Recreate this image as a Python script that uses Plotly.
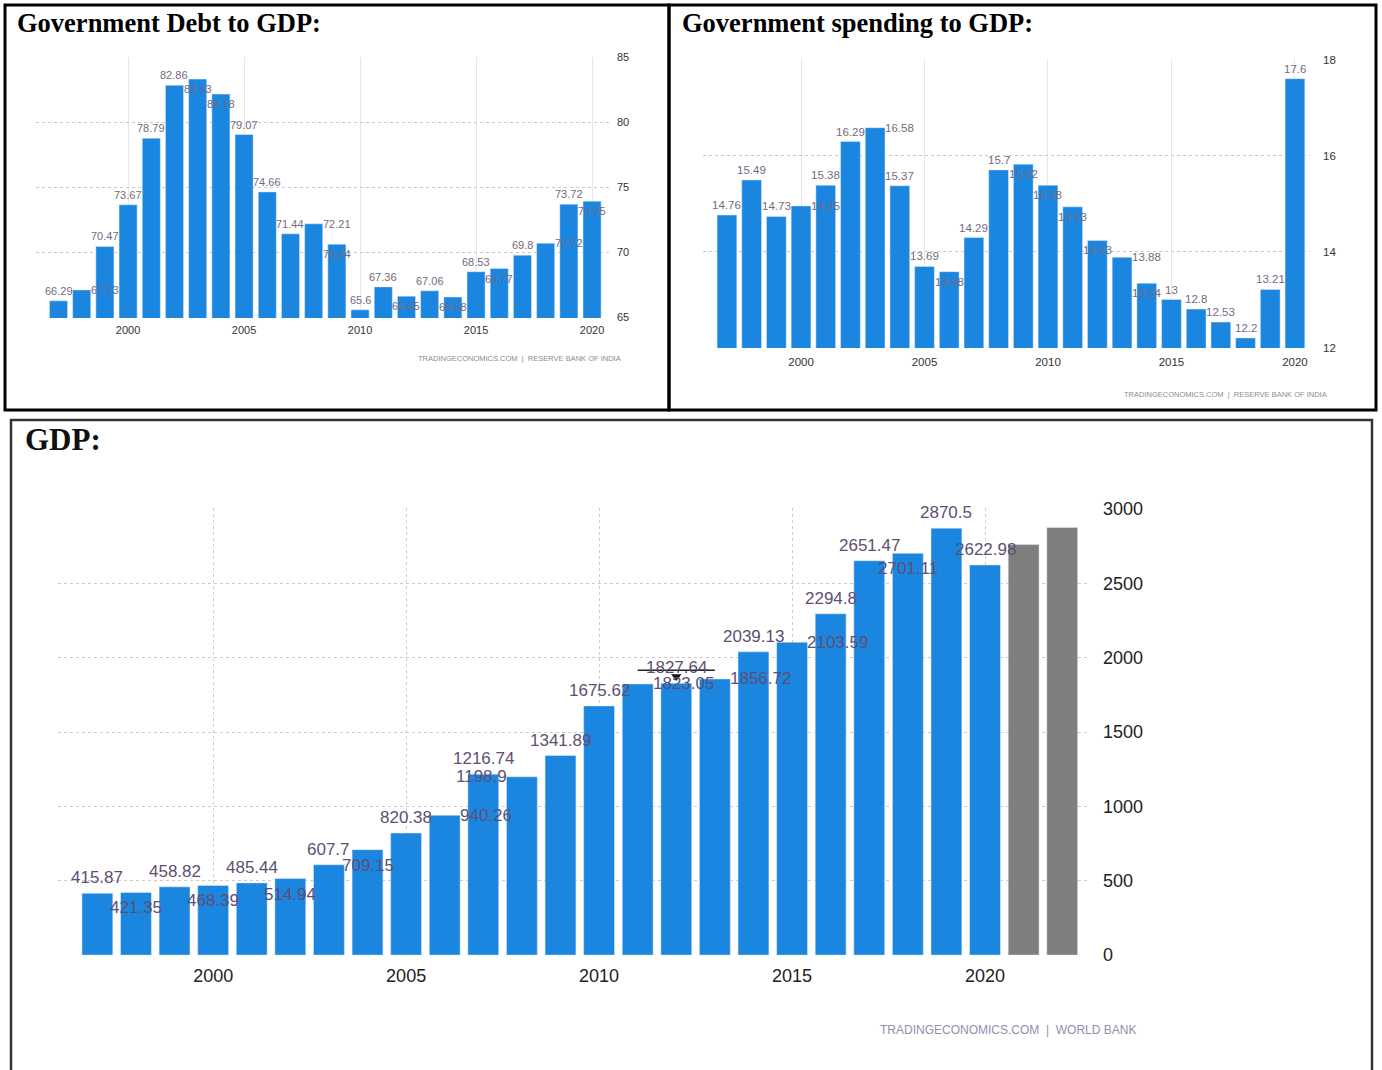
import plotly.graph_objects as go

# ---------------- data ----------------
DEBT_YEARS = list(range(1997, 2021))
DEBT_VALUES = [66.29, 67.13, 70.47, 73.67, 78.79, 82.86, 83.33, 82.18, 79.07, 74.66,
               71.44, 72.21, 70.64, 65.6, 67.36, 66.65, 67.06, 66.58, 68.53, 68.77,
               69.8, 70.72, 73.72, 73.95]

SPEND_YEARS = list(range(1997, 2021))
SPEND_VALUES = [14.76, 15.49, 14.73, 14.95, 15.38, 16.29, 16.58, 15.37, 13.69, 13.58,
                14.29, 15.7, 15.82, 15.38, 14.93, 14.23, 13.88, 13.34, 13.0, 12.8,
                12.53, 12.2, 13.21, 17.6]

GDP_YEARS = list(range(1997, 2021))
GDP_VALUES = [415.87, 421.35, 458.82, 468.39, 485.44, 514.94, 607.7, 709.15, 820.38, 940.26,
              1216.74, 1198.9, 1341.89, 1675.62, 1823.05, 1827.64, 1856.72, 2039.13, 2103.59, 2294.8,
              2651.47, 2701.11, 2870.5, 2622.98]
GDP_FORECAST_YEARS = [2021, 2022]
GDP_FORECAST_VALUES = [2760, 2875]
GDP_MARKED_YEAR = 2012

DEBT_TICKS = [65, 70, 75, 80, 85]
SPEND_TICKS = [12, 14, 16, 18]
GDP_TICKS = [0, 500, 1000, 1500, 2000, 2500, 3000]
YEAR_TICKS = [2000, 2005, 2010, 2015, 2020]

# label placement styles (a = above, i = inside top, r = right of bar, l = left of bar)
DEBT_LABEL_STYLE = "araaaaiiaaariaaiaiaiarai"
SPEND_LABEL_STYLE = "aaaraaraaiaaiiiiriaaaaaa"
GDP_LABEL_STYLE = "aiaiaiaiaralaarararaaiaa"

# ---------------- layout helpers ----------------
W, H = 1382, 1070
def PX(x):
    return x / W
def PY(y):
    return 1 - y / H

BLUE = "#1b86e0"
GREY_BAR = "#7f7f7f"
NARROW = "Liberation Sans Narrow, Arial Narrow, Liberation Sans, sans-serif"
SANS = "Liberation Sans, Arial, sans-serif"
SERIF = "Liberation Serif, Times New Roman, serif"

fig = go.Figure()

fig.add_trace(go.Bar(x=DEBT_YEARS, y=DEBT_VALUES, marker_color=BLUE, width=0.78,
                     xaxis="x", yaxis="y", showlegend=False, hoverinfo="x+y"))
fig.add_trace(go.Bar(x=SPEND_YEARS, y=SPEND_VALUES, marker_color=BLUE, width=0.8,
                     xaxis="x2", yaxis="y2", showlegend=False, hoverinfo="x+y"))
fig.add_trace(go.Bar(x=GDP_YEARS, y=GDP_VALUES, marker_color=BLUE, width=0.8,
                     xaxis="x3", yaxis="y3", showlegend=False, hoverinfo="x+y"))
fig.add_trace(go.Bar(x=GDP_FORECAST_YEARS, y=GDP_FORECAST_VALUES, marker_color=GREY_BAR, width=0.8,
                     xaxis="x3", yaxis="y3", showlegend=False, hoverinfo="x+y"))

# marker on the GDP chart (down triangle above the marked bar)
mi = GDP_YEARS.index(GDP_MARKED_YEAR)
fig.add_trace(go.Scatter(x=[GDP_MARKED_YEAR], y=[GDP_VALUES[mi] + 45], mode="markers",
                         marker=dict(symbol="triangle-down", size=9, color="#111"),
                         xaxis="x3", yaxis="y3", showlegend=False, hoverinfo="skip"))
fig.add_shape(type="line", xref="x3", yref="y3",
              x0=GDP_MARKED_YEAR - 1, x1=GDP_MARKED_YEAR + 1,
              y0=GDP_VALUES[mi] + 88, y1=GDP_VALUES[mi] + 88,
              line=dict(color="#222", width=1.5))

def year_axis(domain, rng, font_size, color, family, standoff, grid_color, grid_dash):
    return dict(domain=domain, range=rng, tickmode="array", tickvals=YEAR_TICKS,
                ticktext=[str(t) for t in YEAR_TICKS], showgrid=True,
                gridcolor=grid_color, griddash=grid_dash, gridwidth=1,
                zeroline=False, showline=False, ticks="", ticklabelstandoff=standoff,
                tickfont=dict(size=font_size, color=color, family=family), fixedrange=True,
                automargin=False)

def value_axis(domain, rng, ticks, anchor, font_size, color, family, standoff, grid_color, grid_dash):
    return dict(domain=domain, range=rng, side="right", anchor=anchor, tickmode="array",
                tickvals=ticks, ticktext=[str(t) for t in ticks], showgrid=True,
                gridcolor=grid_color, griddash=grid_dash, gridwidth=1,
                zeroline=False, showline=False, ticks="", ticklabelstandoff=standoff,
                tickfont=dict(size=font_size, color=color, family=family), fixedrange=True,
                automargin=False)

fig.update_layout(
    width=W, height=H, margin=dict(l=0, r=0, t=0, b=0, pad=0, autoexpand=False), autosize=False,
    paper_bgcolor="white", plot_bgcolor="white", barmode="overlay",
    xaxis=dict(year_axis([PX(36), PX(612)], [1996.03, 2020.86], 11, "#333", NARROW, 4, "#e6e6e6", "solid"), anchor="y"),
    yaxis=value_axis([PY(318), PY(57)], [64.97, 85.03], DEBT_TICKS, "x", 11, "#333", NARROW, 4, "#c9c9c9", "dot"),
    xaxis2=dict(year_axis([PX(703), PX(1310)], [1996.03, 2020.61], 11.5, "#333", NARROW, 5, "#e6e6e6", "solid"), anchor="y2"),
    yaxis2=value_axis([PY(348), PY(59)], [11.99, 18.01], SPEND_TICKS, "x2", 11.5, "#333", NARROW, 12, "#c9c9c9", "dot"),
    xaxis3=dict(year_axis([PX(58), PX(1090)], [1995.98, 2022.72], 18, "#222", SANS, 7, "#cccccc", "3px,3px"), anchor="y3"),
    yaxis3=value_axis([PY(956), PY(508)], [-6, 3006], GDP_TICKS, "x3", 18, "#222", SANS, 12, "#cccccc", "3px,3px"),
)

def add_labels(xref, yref, years, vals, styles, size, color, family, gap, side_shift):
    for yr, v, s in zip(years, vals, styles):
        a = dict(x=yr, y=v, xref=xref, yref=yref, text=f"{v:g}", showarrow=False,
                 font=dict(size=size, color=color, family=family))
        if s == "a":
            a.update(yanchor="bottom", xanchor="center", yshift=gap)
        elif s == "i":
            a.update(yanchor="top", xanchor="center", yshift=-gap)
        elif s == "r":
            a.update(yanchor="middle", xanchor="left", xshift=side_shift)
        else:
            a.update(yanchor="middle", xanchor="right", xshift=-side_shift)
        fig.add_annotation(**a)

add_labels("x", "y", DEBT_YEARS, DEBT_VALUES, DEBT_LABEL_STYLE, 11, "#76697f", NARROW, 2, 7)
add_labels("x2", "y2", SPEND_YEARS, SPEND_VALUES, SPEND_LABEL_STYLE, 11.5, "#76697f", NARROW, 2, 8)
add_labels("x3", "y3", GDP_YEARS, GDP_VALUES, GDP_LABEL_STYLE, 17, "#5e4f73", SANS, 4, 13)

# titles
fig.add_annotation(x=PX(15), y=PY(23), xref="paper", yref="paper", xanchor="left", yanchor="middle",
                   text="<b>Government Debt to GDP:</b>", showarrow=False,
                   font=dict(family=SERIF, size=26.5, color="#000"))
fig.add_annotation(x=PX(680), y=PY(23), xref="paper", yref="paper", xanchor="left", yanchor="middle",
                   text="<b>Government spending to GDP:</b>", showarrow=False,
                   font=dict(family=SERIF, size=26.5, color="#000"))
fig.add_annotation(x=PX(23), y=PY(439), xref="paper", yref="paper", xanchor="left", yanchor="middle",
                   text="<b>GDP:</b>", showarrow=False,
                   font=dict(family=SERIF, size=31, color="#111"))

# source credits
fig.add_annotation(x=PX(623), y=PY(358), xref="paper", yref="paper", xanchor="right", yanchor="middle",
                   text="TRADINGECONOMICS.COM  |  RESERVE BANK OF INDIA", showarrow=False,
                   font=dict(family=SANS, size=7.5, color="#8c8c8c"))
fig.add_annotation(x=PX(1329), y=PY(394), xref="paper", yref="paper", xanchor="right", yanchor="middle",
                   text="TRADINGECONOMICS.COM  |  RESERVE BANK OF INDIA", showarrow=False,
                   font=dict(family=SANS, size=7.5, color="#8c8c8c"))
fig.add_annotation(x=PX(1138), y=PY(1030), xref="paper", yref="paper", xanchor="right", yanchor="middle",
                   text="TRADINGECONOMICS.COM  |  WORLD BANK", showarrow=False,
                   font=dict(family=SANS, size=12, color="#8f8fae"))

# panel borders
def rect(x0, y0, x1, y1, color, width):
    fig.add_shape(type="rect", xref="paper", yref="paper", x0=PX(x0), x1=PX(x1), y0=PY(y1), y1=PY(y0),
                  line=dict(color=color, width=width), fillcolor="rgba(0,0,0,0)", layer="above")

rect(5, 5, 669, 410, "#000", 3)
rect(669, 5, 1376, 410, "#000", 3)
rect(11, 420, 1372, 1072, "#333", 2.5)

POST = ("document.documentElement.style.margin='0px';document.documentElement.style.overflow='hidden';"
        "document.body.style.margin='0px';document.body.style.padding='0px';"
        "document.body.style.overflow='hidden';"
        "var gd=document.getElementById('{plot_id}');"
        "gd.style.position='fixed';gd.style.top='0px';gd.style.left='0px';"
        "Plotly.relayout(gd,{width:%d,height:%d});" % (W, H))

fig.write_html("out.html", post_script=POST, config={"displayModeBar": False})
